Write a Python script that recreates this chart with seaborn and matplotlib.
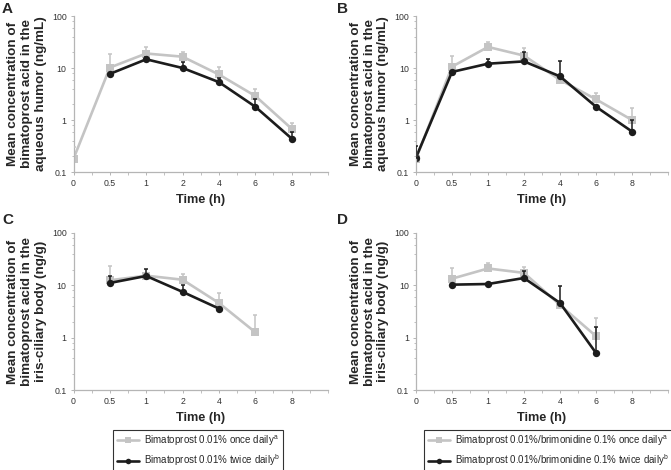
import numpy as np
import pandas as pd
import matplotlib
matplotlib.use("Agg")
import matplotlib.pyplot as plt
import seaborn as sns
from matplotlib.lines import Line2D

sns.set_theme(style="white")
plt.rcParams['font.family'] = ['Liberation Sans', 'DejaVu Sans']
plt.rcParams['mathtext.fontset'] = 'custom'
plt.rcParams['mathtext.rm'] = 'Liberation Sans'

# ---------------- data ----------------
time_labels = ["0", "0.5", "1", "2", "4", "6", "8"]
nan = np.nan

# Panel A: aqueous humor, bimatoprost 0.01%
a_once = [0.18, 10.2, 19.0, 16.5, 7.5, 2.9, 0.68]
a_once_err = [0.12, 8.4, 6.0, 3.5, 2.8, 1.0, 0.21]
a_twice = [nan, 7.7, 14.7, 10.0, 5.35, 1.8, 0.44]
a_twice_err = [nan, 0.0, 1.8, 3.0, 0.95, 0.7, 0.15]

# Panel B: aqueous humor, bimatoprost/brimonidine
b_once = [0.18, 10.6, 25.4, 17.3, 5.9, 2.5, 1.0]
b_once_err = [0.0, 6.1, 6.6, 7.3, 0.0, 0.85, 0.73]
b_twice = [0.19, 8.4, 12.1, 13.4, 6.9, 1.8, 0.6]
b_twice_err = [0.13, 0.0, 2.8, 6.6, 6.7, 0.0, 0.4]

# Panel C: iris-ciliary body, bimatoprost 0.01%
c_once = [nan, 12.5, 15.3, 12.8, 4.6, 1.27, nan]
c_once_err = [nan, 10.5, 0.0, 3.7, 2.5, 1.45, nan]
c_twice = [nan, 11.1, 15.1, 7.5, 3.6, nan, nan]
c_twice_err = [nan, 3.9, 5.5, 2.5, 0.0, nan, nan]

# Panel D: iris-ciliary body, bimatoprost/brimonidine
d_once = [nan, 13.4, 21.0, 17.3, 4.2, 1.07, nan]
d_once_err = [nan, 7.6, 5.5, 5.5, 0.0, 1.28, nan]
d_twice = [nan, 10.3, 10.6, 13.8, 4.6, 0.51, nan]
d_twice_err = [nan, 0.0, 0.0, 5.2, 5.0, 1.07, nan]

ylabels_top = "Mean concentration of\nbimatoprost acid in the\naqueous humor (ng/mL)"
ylabels_bot = "Mean concentration of\nbimatoprost acid in the\niris-ciliary body (ng/g)"
legend_left = ["Bimatoprost 0.01% once daily$^{\\mathregular{a}}$",
               "Bimatoprost 0.01% twice daily$^{\\mathregular{b}}$"]
legend_right = ["Bimatoprost 0.01%/brimonidine 0.1% once daily$^{\\mathregular{a}}$",
                "Bimatoprost 0.01%/brimonidine 0.1% twice daily$^{\\mathregular{b}}$"]
panel_letters = ["A", "B", "C", "D"]

GRAY = "#c4c4c4"
BLACK = "#1c1c1c"
SPINE = "#b5b5b5"
TICKC = "#333333"

W, H = 671, 470
fig = plt.figure(figsize=(W / 100, H / 100), dpi=100)

def rect(l, r, t, b):
    return [l / W, 1 - b / H, (r - l) / W, (b - t) / H]

axes_px = [(73.5, 328, 16, 172), (416, 668, 16, 172),
           (73.5, 328, 233, 390), (416, 668, 233, 390)]
panels = [(a_once, a_once_err, a_twice, a_twice_err),
          (b_once, b_once_err, b_twice, b_twice_err),
          (c_once, c_once_err, c_twice, c_twice_err),
          (d_once, d_once_err, d_twice, d_twice_err)]

for i, (px, (o, oe, tw, twe)) in enumerate(zip(axes_px, panels)):
    ax = fig.add_axes(rect(*px))
    pos = np.arange(len(time_labels))
    df = pd.DataFrame({
        "pos": np.concatenate([pos, pos]),
        "val": np.concatenate([o, tw]),
        "group": ["once"] * len(pos) + ["twice"] * len(pos),
    }).dropna()
    # error bars (upper only)
    for vals, errs, col, z in [(o, oe, GRAY, 1), (tw, twe, BLACK, 3)]:
        v = np.array(vals, float); e = np.array(errs, float)
        m = ~np.isnan(v) & (np.nan_to_num(e) > 0)
        ax.errorbar(pos[m], v[m], yerr=[np.zeros(m.sum()), e[m]], fmt="none",
                    ecolor=col, elinewidth=1.1, capsize=1.6, capthick=1.1, zorder=z)
    sns.lineplot(data=df, x="pos", y="val", hue="group", style="group",
                 palette={"once": GRAY, "twice": BLACK},
                 markers={"once": "s", "twice": "o"}, dashes=False,
                 markersize=5.3, markeredgewidth=0, linewidth=1.9,
                 legend=False, ax=ax, sort=True)
    for ln, z in zip(ax.lines, [2, 4]):
        ln.set_zorder(z)
    ax.set_yscale("log")
    ax.set_ylim(0.1, 100)
    ax.set_xlim(0, 7)
    ax.set_yticks([0.1, 1, 10, 100])
    ax.set_yticklabels(["0.1", "1", "10", "100"])
    ax.set_xticks(pos)
    ax.set_xticklabels(time_labels)
    ax.set_xticks(np.arange(0.5, 7.01, 0.5), minor=True)
    ax.yaxis.set_minor_locator(matplotlib.ticker.LogLocator(base=10, subs=[2, 4, 6, 8]))
    ax.yaxis.set_minor_formatter(matplotlib.ticker.NullFormatter())
    for s in ["top", "right"]:
        ax.spines[s].set_visible(False)
    for s in ["left", "bottom"]:
        ax.spines[s].set_color(SPINE)
        ax.spines[s].set_linewidth(0.9)
    ax.tick_params(axis="both", which="major", length=2.5, width=0.7, color=SPINE,
                   labelsize=6.3, labelcolor=TICKC, pad=2.5, direction="out")
    ax.tick_params(axis="both", which="minor", length=1.8, width=0.6, color=SPINE,
                   direction="out")
    ax.tick_params(axis="y", which="minor", left=True)
    ax.tick_params(axis="x", which="minor", bottom=True)
    ax.tick_params(left=True, bottom=True)
    ax.set_xlabel("Time (h)", fontsize=9.2, fontweight="bold", labelpad=4)
    ax.set_ylabel("")
    ax.patch.set_alpha(0)
    # y label as figure text, centred on the axes' height
    l, r, t, b = px
    fig.text((l - 46.5) / W, 1 - ((t + b) / 2) / H,
             ylabels_top if i < 2 else ylabels_bot,
             fontsize=9.7, fontweight="bold", rotation=90, linespacing=1.18,
             ha="center", va="center", multialignment="center")

# panel letters
for letter, (x, y) in zip(panel_letters, [(2, 2), (337, 2), (2, 213), (337, 213)]):
    fig.text(x / W, 1 - y / H, letter, fontsize=11, fontweight="bold",
             ha="left", va="top")

# legends
def make_handles(labels):
    return [Line2D([], [], color=GRAY, marker="s", markersize=4, markeredgewidth=0,
                   linewidth=1.9, label=labels[0]),
            Line2D([], [], color=BLACK, marker="o", markersize=4, markeredgewidth=0,
                   linewidth=1.9, label=labels[1])]

for labels, cx in [(legend_left, 198), (legend_right, 548)]:
    leg = fig.legend(handles=make_handles(labels), loc="upper center",
                     bbox_to_anchor=(cx / W, 1 - 430 / H), frameon=True,
                     fancybox=False, fontsize=7, handlelength=2.3,
                     handletextpad=0.5, labelspacing=0.45, borderpad=0.35,
                     borderaxespad=0)
    leg.get_frame().set_edgecolor("black")
    leg.get_frame().set_linewidth(0.8)

fig.savefig("out.png", dpi=100)
